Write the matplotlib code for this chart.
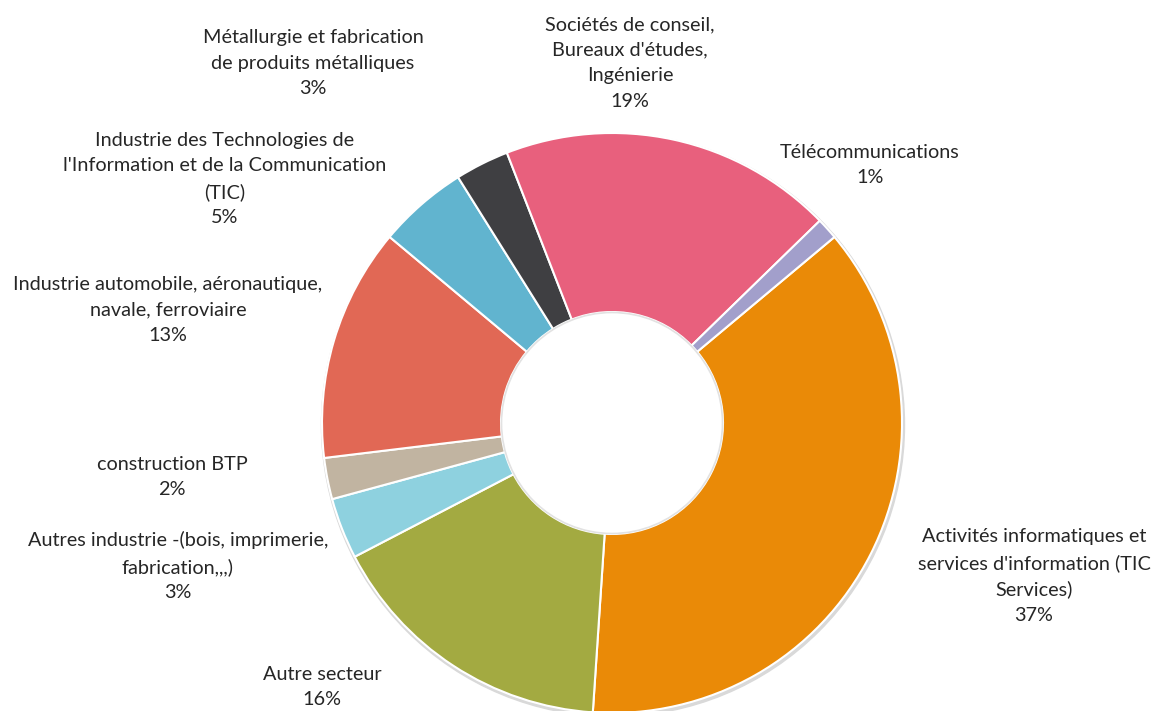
import numpy as np
import matplotlib
matplotlib.use("Agg")
import matplotlib.pyplot as plt

plt.rcParams['font.family'] = ['Lato', 'DejaVu Sans']

# data (share of respondents, %)
sectors = [
    "Activités informatiques et\nservices d'information (TIC\nServices)",
    "Autre secteur",
    "Autres industrie -(bois, imprimerie,\nfabrication,,,)",
    "construction BTP",
    "Industrie automobile, aéronautique,\nnavale, ferroviaire",
    "Industrie des Technologies de\nl'Information et de la Communication\n(TIC)",
    "Métallurgie et fabrication\nde produits métalliques",
    "Sociétés de conseil,\nBureaux d'études,\nIngénierie",
    "Télécommunications",
]
shares = [37.1, 16.3, 3.4, 2.3, 13.0, 5.0, 3.0, 18.6, 1.2]
colors = ["#EA8A07", "#A3AA41", "#8ED1DF", "#C1B4A1", "#E16855",
          "#61B4CF", "#3F3F42", "#E8607D", "#A29FCB"]

# label block centres in pixels (x, y from top)
label_xy = [(1034, 576), (322, 687), (178, 566), (172, 477), (168, 310),
            (225, 179), (313, 63), (630, 63), (870, 165)]

W, H = 1151, 711
fig = plt.figure(figsize=(W / 100, H / 100), dpi=100)
ax = fig.add_axes([0, 0, 1, 1])

cx, cy = 612, H - 423
R = 290
r_in = 111

# faint shadow ring
ax.add_patch(plt.Circle((cx + 1, cy - 2), R + 1.5, color="#d9d9d9", zorder=0))

wedges, _ = ax.pie(shares, colors=colors, radius=R, center=(cx, cy),
                   startangle=90 - 50.1, counterclock=False, frame=True,
                   wedgeprops=dict(width=R - r_in, edgecolor="white", linewidth=1.5))
for w in wedges:
    w.set_zorder(1)

ax.add_patch(plt.Circle((cx, cy), r_in - 0.5, facecolor="white",
                        edgecolor="#e2e2e2", linewidth=1.2, zorder=2))

for name, v, (px, py) in zip(sectors, shares, label_xy):
    ax.text(px, H - py, f"{name}\n{round(v)}%", ha="center", va="center",
            fontsize=14.3, color="#262626", linespacing=1.6)

ax.set_xlim(0, W)
ax.set_ylim(0, H)
ax.set_aspect("equal")
ax.axis("off")

fig.savefig("out.png", dpi=100, facecolor="white")
